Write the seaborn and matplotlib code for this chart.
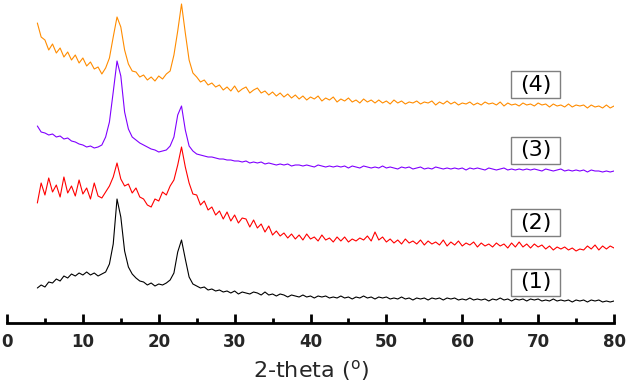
import numpy as np
import pandas as pd
import seaborn as sns
import matplotlib.pyplot as plt
from matplotlib.patches import Rectangle
from matplotlib.ticker import MultipleLocator

# 2-theta sampling grid (deg), step 0.5
two_theta = np.arange(4.0, 80.25, 0.5)

# intensities (a.u., stacked with offsets as in the figure)
sample_1 = [
    35, 38, 36, 41, 40, 44, 42, 47, 45, 49,
    47, 50, 48, 51, 48, 50, 47, 49, 51, 59,
    79, 124, 106, 72, 56, 49, 45, 42, 41, 38,
    40, 37, 39, 38, 40, 43, 50, 71, 83, 64,
    46, 39, 37, 35, 36, 33, 34, 32, 33, 31,
    32, 30, 32, 29, 31, 30, 29, 31, 30, 28,
    31, 28, 29, 27, 29, 28, 26, 28, 27, 26,
    28, 26, 27, 25, 27, 26, 27, 25, 26, 25,
    27, 25, 26, 24, 26, 25, 27, 25, 26, 24,
    26, 25, 26, 24, 25, 24, 26, 24, 25, 23,
    25, 24, 25, 23, 25, 24, 25, 23, 25, 24,
    25, 23, 24, 23, 25, 23, 24, 23, 24, 22,
    24, 23, 25, 23, 24, 22, 24, 23, 24, 22,
    24, 23, 24, 22, 23, 22, 24, 22, 23, 22,
    23, 21, 23, 22, 23, 21, 23, 22, 23, 21,
    22, 21, 22,
]
sample_2 = [
    120, 140, 128, 145, 131, 138, 126, 146, 130, 137,
    127, 143, 129, 135, 124, 140, 127, 125, 131, 137,
    146, 160, 144, 137, 139, 130, 135, 126, 124, 118,
    116, 124, 122, 131, 128, 137, 143, 158, 176, 156,
    140, 129, 128, 118, 122, 113, 116, 108, 112, 104,
    111, 102, 108, 100, 105, 104, 96, 103, 95, 99,
    91, 97, 88, 92, 87, 90, 85, 89, 84, 88,
    83, 89, 84, 86, 82, 88, 83, 85, 81, 86,
    82, 86, 81, 84, 82, 85, 83, 87, 82, 91,
    83, 86, 81, 84, 80, 83, 79, 84, 80, 82,
    79, 83, 78, 82, 79, 81, 78, 83, 77, 81,
    78, 82, 77, 80, 78, 81, 76, 80, 77, 79,
    76, 80, 77, 79, 75, 80, 76, 81, 76, 79,
    75, 79, 76, 78, 74, 77, 73, 76, 74, 76,
    73, 75, 72, 74, 73, 77, 74, 78, 73, 77,
    74, 77, 75,
]
sample_3 = [
    197, 191, 190, 188, 189, 186, 187, 184, 185, 182,
    181, 179, 178, 176, 177, 175, 176, 178, 186, 201,
    231, 262, 247, 211, 194, 186, 183, 180, 178, 176,
    174, 173, 171, 172, 173, 177, 186, 208, 217, 193,
    177, 172, 169, 168, 167, 166, 166, 165, 164, 164,
    163, 163, 162, 162, 161, 162, 160, 161, 160, 161,
    159, 160, 159, 158, 159, 158, 159, 157, 158, 158,
    157, 158, 157, 156, 158, 157, 156, 157, 156, 157,
    156, 157, 155, 157, 156, 155, 157, 156, 155, 156,
    155, 157, 155, 156, 155, 154, 156, 155, 156, 154,
    155, 156, 154, 155, 154, 156, 155, 154, 155, 154,
    155, 154, 155, 153, 155, 154, 155, 154, 153, 155,
    154, 153, 154, 155, 153, 154, 153, 154, 153, 154,
    153, 154, 153, 152, 154, 153, 152, 153, 154, 152,
    153, 152, 153, 152, 153, 151, 153, 152, 152, 151,
    152, 151, 152,
]
sample_4 = [
    300, 286, 283, 273, 279, 270, 275, 266, 271, 263,
    268, 260, 265, 257, 261, 254, 256, 249, 255, 265,
    286, 306, 296, 273, 259, 252, 251, 246, 248, 243,
    246, 242, 247, 244, 249, 252, 268, 292, 319, 290,
    263, 250, 246, 241, 243, 238, 240, 236, 238, 233,
    236, 232, 237, 231, 234, 236, 230, 233, 235, 230,
    232, 228, 231, 227, 230, 226, 229, 225, 228, 224,
    227, 223, 226, 224, 227, 222, 225, 223, 226, 221,
    224, 222, 225, 221, 223, 220, 224, 221, 223, 220,
    223, 220, 222, 219, 223, 220, 222, 219, 221, 220,
    222, 219, 221, 220, 222, 218, 221, 219, 222, 219,
    221, 218, 220, 219, 221, 218, 220, 218, 221, 219,
    220, 218, 221, 217, 220, 218, 219, 217, 220, 218,
    219, 217, 220, 218, 219, 216, 219, 217, 218, 216,
    219, 216, 218, 217, 218, 215, 218, 216, 217, 215,
    218, 215, 217,
]

sample_names = ["(1)", "(2)", "(3)", "(4)"]
sample_colors = {"(1)": "black", "(2)": "#ff0000", "(3)": "#8000ff", "(4)": "#ff8c00"}
tick_vals = [0, 10, 20, 30, 40, 50, 60, 70, 80]

frames = []
for name, values in zip(sample_names, [sample_1, sample_2, sample_3, sample_4]):
    assert len(values) == len(two_theta), name
    frames.append(pd.DataFrame({"two_theta": two_theta, "intensity": values, "sample": name}))
df = pd.concat(frames, ignore_index=True)

sns.set_style("white")
plt.rcParams["font.family"] = ["DejaVu Sans"]
plt.rcParams["mathtext.default"] = "regular"

fig = plt.figure(figsize=(6.28, 3.9), dpi=100)
ax = fig.add_axes([7 / 628, 67 / 390, 607 / 628, 323 / 390])

sns.lineplot(data=df, x="two_theta", y="intensity", hue="sample", palette=sample_colors,
             estimator=None, sort=False, legend=False, linewidth=0.8, ax=ax)

# boxed sample labels on the right
label_pos = {"(1)": 41, "(2)": 100.5, "(3)": 173, "(4)": 238.5}
box_w, box_h = 49 / 7.5875, 27
for name in sample_names:
    yc = label_pos[name]
    ax.add_patch(Rectangle((69.7 - box_w / 2, yc - box_h / 2), box_w, box_h,
                           facecolor="white", edgecolor="#7f7f7f", linewidth=1.0, zorder=3))
    ax.text(69.7, yc, name, ha="center", va="center", fontsize=16, color="black", zorder=4)

ax.set_xlim(0, 80)
ax.set_ylim(0, 323)
ax.set_yticks([])
ax.set_ylabel("")
for side in ["left", "right", "top"]:
    ax.spines[side].set_visible(False)
ax.spines["bottom"].set_linewidth(2)
ax.spines["bottom"].set_color("black")

ax.set_xticks(tick_vals, labels=[str(t) for t in tick_vals], fontweight="bold", fontsize=12)
ax.xaxis.set_minor_locator(MultipleLocator(5))
ax.tick_params(axis="x", which="both", bottom=True, direction="in", width=2, color="black")
ax.tick_params(axis="x", which="major", length=6.5, pad=7)
ax.tick_params(axis="x", which="minor", length=3.6)
ax.set_xlabel(r"2-theta ($^{o}$)", fontsize=16, labelpad=5)

fig.savefig("out.png", dpi=100)
plt.close(fig)
